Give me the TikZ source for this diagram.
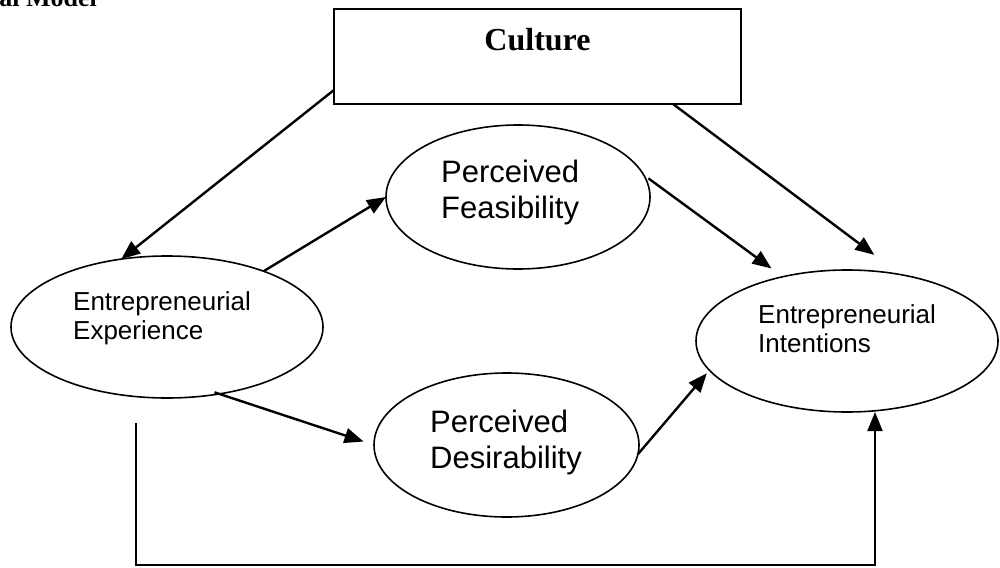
\documentclass[tikz,border=0pt]{standalone}
\usepackage{fontspec}
\setmainfont{Liberation Serif}
\newfontfamily\arialf{Liberation Sans}
\usetikzlibrary{shapes.geometric,arrows.meta,calc}
\begin{document}
\begin{tikzpicture}[x=1pt,y=-1pt,
  ell/.style={ellipse,draw,line width=1.6pt,inner sep=0pt,outer sep=0pt},
  boxs/.style={rectangle,draw,line width=2.2pt,inner sep=0pt,outer sep=0pt},
  smalltxt/.style={font=\arialf\fontsize{26}{29.5}\selectfont,align=left,inner sep=0pt,anchor=base west},
  bigtxt/.style={font=\arialf\fontsize{31}{36}\selectfont,align=left,inner sep=0pt,anchor=base west},
  arr/.style={line width=2.4pt,-{Triangle[length=19pt,width=15pt]}}]
\useasboundingbox (0,0) rectangle (1000,567);
% partially visible title
\node[font=\bfseries\fontsize{26}{30}\selectfont,inner sep=0pt,anchor=base east] (title) at (97,7) {al Model};
% shapes
\node[boxs,minimum width=407pt,minimum height=95pt] (cul) at (537.5,56.5) {};
\node[font=\bfseries\fontsize{32}{36}\selectfont,inner sep=0pt,anchor=base] (cultxt) at (537.5,51) {Culture};
\node[ell,minimum width=312pt,minimum height=142pt] (exp) at (167,327) {};
\node[ell,minimum width=264pt,minimum height=144pt] (fea) at (518,197) {};
\node[ell,minimum width=265pt,minimum height=144pt] (des) at (506.5,445) {};
\node[ell,minimum width=302pt,minimum height=142pt] (int) at (847,341) {};
% texts (base anchor = baseline of last line)
\node[smalltxt] (exptxt) at (73,339.5) {Entrepreneurial\\Experience};
\node[bigtxt] (featxt) at (441,218) {Perceived\\Feasibility};
\node[bigtxt] (destxt) at (430,468) {Perceived\\Desirability};
\node[smalltxt] (inttxt) at (758,352.5) {Entrepreneurial\\Intentions};
% connectors
\draw[arr] ([yshift=14pt]cul.south west) -- (exp.124);
\draw[arr,shorten >=33pt] ([xshift=-68pt]cul.south east) -- (int.51);
\draw[arr] (exp.30) -- (fea.180);
\draw[arr,shorten <=6pt,shorten >=14pt] (fea.10) -- (int.135);
\draw[arr,shorten <=-5pt,shorten >=11pt] (exp.-52) -- (des.west);
\draw[arr,shorten >=4pt] (des.-4) -- (int.192);
\coordinate (bstart) at (136,423);
\coordinate (bcorner) at (875,565);
\draw[arr,line width=2pt] (bstart) |- (bcorner) -- ([xshift=28pt]int.south);
\end{tikzpicture}
\end{document}
